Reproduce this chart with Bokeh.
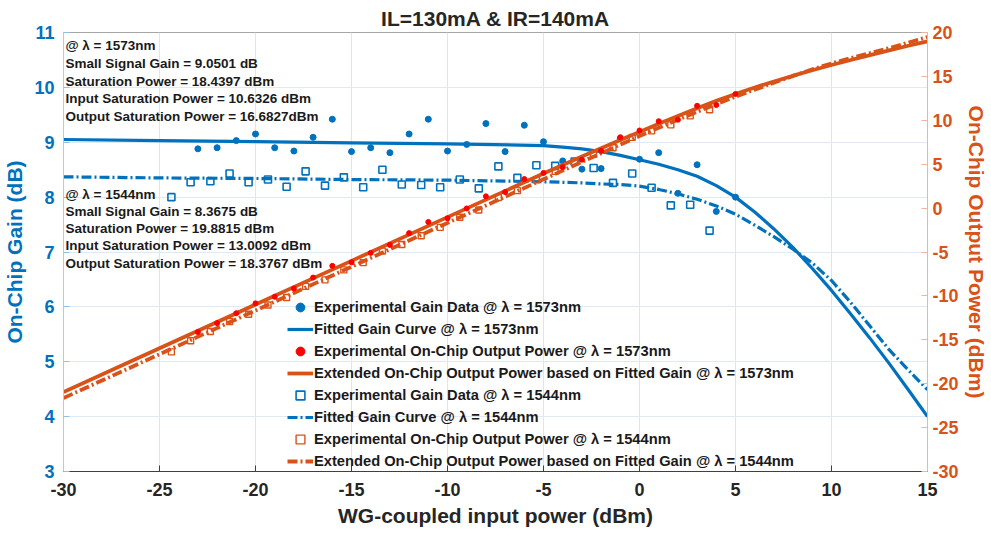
from bokeh.plotting import figure
from bokeh.models import Range1d, LinearAxis, FixedTicker, Legend, LegendItem, Label, ColumnDataSource
from bokeh.embed import file_html
from bokeh.resources import INLINE

# ---------------- data ----------------
title_text = "IL=130mA & IR=140mA"
x_ticks = [-30, -25, -20, -15, -10, -5, 0, 5, 10, 15]
gain_ticks = [3, 4, 5, 6, 7, 8, 9, 10, 11]
pout_ticks = [-30, -25, -20, -15, -10, -5, 0, 5, 10, 15, 20]

# fitted curves
fit_pin = [-30, -25, -20, -15, -10, -5, -4, -3, -2, -1, 0, 1, 2, 3, 4, 5, 6, 7, 8, 9, 10, 11, 12, 13, 14, 15]
fit_gain_1573 = [9.05, 9.03, 9.01, 8.99, 8.97, 8.94, 8.91, 8.88, 8.83, 8.76, 8.68, 8.60, 8.50, 8.38, 8.21, 8.00,
                 7.73, 7.42, 7.08, 6.70, 6.30, 5.87, 5.43, 4.97, 4.49, 4.00]
fit_gain_1544 = [8.37, 8.35, 8.34, 8.32, 8.31, 8.28, 8.27, 8.26, 8.24, 8.23, 8.20, 8.14, 8.06, 7.96, 7.84, 7.69,
                 7.49, 7.28, 7.05, 6.80, 6.48, 6.08, 5.65, 5.22, 4.85, 4.49]
fit_pout_1573 = [-20.95, -15.97, -10.99, -6.01, -1.03, 3.94, 4.91, 5.88, 6.83, 7.76, 8.68, 9.60, 10.50, 11.38, 12.21, 13.00,
                 13.73, 14.42, 15.08, 15.70, 16.30, 16.87, 17.43, 17.97, 18.49, 19.00]
fit_pout_1544 = [-21.63, -16.65, -11.66, -6.68, -1.69, 3.28, 4.27, 5.26, 6.24, 7.23, 8.20, 9.14, 10.06, 10.96, 11.84, 12.69,
                 13.49, 14.28, 15.05, 15.80, 16.48, 17.08, 17.65, 18.22, 18.85, 19.49]

# experimental data @ 1573 nm
exp_pin_1573 = [-23, -22, -21, -20, -19, -18, -17, -16, -15, -14, -13, -12, -11, -10, -9, -8, -7, -6, -5, -4,
                -3, -2, -1, 0, 1, 2, 3, 4, 5]
exp_gain_1573 = [8.88, 8.90, 9.03, 9.15, 8.90, 8.84, 9.09, 9.42, 8.83, 8.90, 8.81, 9.15, 9.42, 8.84, 8.96, 9.34,
                 8.83, 9.31, 9.01, 8.66, 8.51, 8.52, 9.07, 8.69, 8.81, 8.07, 8.59, 7.74, 8.00]
exp_pout_1573 = [-14.12, -13.10, -11.97, -10.85, -10.10, -9.16, -7.91, -6.58, -6.17, -5.10, -4.19, -2.85, -1.58,
                 -1.16, -0.04, 1.34, 1.83, 3.31, 4.01, 4.66, 5.51, 6.52, 8.07, 8.84, 9.90, 10.07, 11.65, 11.74, 13.00]

# experimental data @ 1544 nm
exp_pin_1544 = [-24.38, -23.38, -22.35, -21.35, -20.36, -19.35, -18.38, -17.39, -16.38, -15.40, -14.39, -13.39,
                -12.38, -11.37, -10.38, -9.36, -8.37, -7.35, -6.36, -5.37, -4.39, -3.38, -2.39, -1.38, -0.38,
                0.63, 1.63, 2.64, 3.65]
exp_gain_1544 = [8.00, 8.27, 8.29, 8.43, 8.27, 8.32, 8.19, 8.47, 8.21, 8.36, 8.18, 8.50, 8.23, 8.22, 8.18, 8.32,
                 8.16, 8.56, 8.35, 8.58, 8.57, 8.65, 8.53, 8.26, 8.43, 8.17, 7.85, 7.86, 7.39]
exp_pout_1544 = [-16.38, -15.11, -14.06, -12.92, -12.09, -11.03, -10.19, -8.92, -8.17, -7.04, -6.21, -4.89, -4.15,
                 -3.15, -2.20, -1.04, -0.21, 1.21, 1.99, 3.21, 4.18, 5.27, 6.14, 6.88, 8.05, 8.80, 9.48, 10.50, 11.20]

notes_1573 = ["@ λ = 1573nm", "Small Signal Gain = 9.0501 dB", "Saturation Power = 18.4397 dBm",
              "Input Saturation Power = 10.6326 dBm", "Output Saturation Power = 16.6827dBm"]
notes_1573_y = [10.76, 10.44, 10.11, 9.79, 9.47]
notes_1544 = ["@ λ = 1544nm", "Small Signal Gain = 8.3675 dB", "Saturation Power = 19.8815 dBm",
              "Input Saturation Power = 13.0092 dBm", "Output Saturation Power = 18.3767 dBm"]
notes_1544_y = [8.05, 7.73, 7.42, 7.11, 6.79]

legend_labels = [
    "Experimental Gain Data @ λ = 1573nm",
    "Fitted Gain Curve @ λ = 1573nm",
    "Experimental On-Chip Output Power @ λ = 1573nm",
    "Extended On-Chip Output Power based on Fitted Gain @ λ = 1573nm",
    "Experimental Gain Data @ λ = 1544nm",
    "Fitted Gain Curve @ λ = 1544nm",
    "Experimental On-Chip Output Power @ λ = 1544nm",
    "Extended On-Chip Output Power based on Fitted Gain @ λ = 1544nm",
]

# ---------------- style ----------------
BLUE = "#0072BD"
ORANGE = "#D95319"
RED = "#FF0000"
FONT = "Liberation Sans"
TXT = "#262626"
DASH = "10 3 2 3"

p = figure(width=991, height=533, x_range=Range1d(-30, 15), y_range=Range1d(3, 11),
           output_backend="svg", toolbar_location=None,
           min_border_left=62, min_border_right=64, min_border_top=32, min_border_bottom=62)
p.extra_y_ranges = {"pout": Range1d(-30, 20)}

p.title.text = title_text
p.title.align = "center"
p.title.text_font = FONT
p.title.text_font_size = "21px"
p.title.text_font_style = "bold"
p.title.text_color = TXT
p.title.standoff = 5
p.title.offset = 0

p.background_fill_color = "white"
p.outline_line_color = "#a6a6a6"
p.outline_line_width = 1


def plain_labels(ticks):
    return {t: str(t) for t in ticks}


# x axis
xa = p.xaxis[0]
xa.ticker = FixedTicker(ticks=x_ticks)
xa.major_label_overrides = plain_labels(x_ticks)
xa.axis_label = "WG-coupled input power (dBm)"
xa.axis_label_text_font = FONT
xa.axis_label_text_font_size = "21px"
xa.axis_label_text_font_style = "bold"
xa.axis_label_text_color = TXT
xa.axis_label_standoff = 5
xa.major_label_text_font = FONT
xa.major_label_text_font_size = "18px"
xa.major_label_text_font_style = "bold"
xa.major_label_text_color = TXT
xa.major_label_standoff = 11
xa.axis_line_color = "#404040"
xa.major_tick_line_color = "#404040"
xa.major_tick_in = 6
xa.major_tick_out = 0
xa.minor_tick_line_color = None

# left axis
ya = p.yaxis[0]
ya.ticker = FixedTicker(ticks=gain_ticks)
ya.major_label_overrides = plain_labels(gain_ticks)
ya.axis_label = "On-Chip Gain (dB)"
ya.axis_label_text_font = FONT
ya.axis_label_text_font_size = "21px"
ya.axis_label_text_font_style = "bold"
ya.axis_label_text_color = BLUE
ya.axis_label_standoff = 5
ya.major_label_text_font = FONT
ya.major_label_text_font_size = "18px"
ya.major_label_text_font_style = "bold"
ya.major_label_text_color = BLUE
ya.major_label_standoff = 9
ya.axis_line_color = "#a9cdea"
ya.major_tick_line_color = "#8fc0e6"
ya.major_tick_in = 6
ya.major_tick_out = 0
ya.minor_tick_line_color = None

# right axis
ra = LinearAxis(y_range_name="pout", ticker=FixedTicker(ticks=pout_ticks))
ra.major_label_overrides = plain_labels(pout_ticks)
ra.axis_label = "On-Chip Output Power (dBm)"
ra.axis_label_text_font = FONT
ra.axis_label_text_font_size = "21px"
ra.axis_label_text_font_style = "bold"
ra.axis_label_text_color = ORANGE
ra.axis_label_standoff = 3
ra.major_label_text_font = FONT
ra.major_label_text_font_size = "18px"
ra.major_label_text_font_style = "bold"
ra.major_label_text_color = ORANGE
ra.major_label_standoff = 5
ra.axis_line_color = "#f0b49c"
ra.major_tick_line_color = "#f0b49c"
ra.major_tick_in = 6
ra.major_tick_out = 0
ra.minor_tick_line_color = None
p.add_layout(ra, "right")

# grids
p.xgrid.ticker = FixedTicker(ticks=x_ticks)
p.xgrid.grid_line_color = "#e4e4e4"
p.ygrid.ticker = FixedTicker(ticks=gain_ticks)
p.ygrid.grid_line_color = "#dfeaf5"

# ---------------- glyphs ----------------
fit_src = ColumnDataSource(dict(x=fit_pin, g73=fit_gain_1573, g44=fit_gain_1544,
                                p73=fit_pout_1573, p44=fit_pout_1544))
e73 = ColumnDataSource(dict(x=exp_pin_1573, g=exp_gain_1573, p=exp_pout_1573))
e44 = ColumnDataSource(dict(x=exp_pin_1544, g=exp_gain_1544, p=exp_pout_1544))

r_fit73 = p.line("x", "g73", source=fit_src, line_color=BLUE, line_width=3.2)
r_fit44 = p.line("x", "g44", source=fit_src, line_color=BLUE, line_width=3.2, line_dash=DASH)
r_g73 = p.scatter("x", "g", source=e73, marker="circle", size=6, fill_color=BLUE, line_color=BLUE)
r_g44 = p.scatter("x", "g", source=e44, marker="square", size=7, fill_color=None, line_color=BLUE,
                  line_width=1.6)
r_pf73 = p.line("x", "p73", source=fit_src, y_range_name="pout", line_color=ORANGE, line_width=3.8)
r_pf44 = p.line("x", "p44", source=fit_src, y_range_name="pout", line_color=ORANGE, line_width=3.8,
                line_dash=DASH)
r_p73 = p.scatter("x", "p", source=e73, y_range_name="pout", marker="circle", size=5,
                  fill_color=RED, line_color=RED)
r_p44 = p.scatter("x", "p", source=e44, y_range_name="pout", marker="square", size=6, fill_color=None,
                  line_color=ORANGE, line_width=1.4)

legend = Legend(items=[
    LegendItem(label=legend_labels[0], renderers=[r_g73]),
    LegendItem(label=legend_labels[1], renderers=[r_fit73]),
    LegendItem(label=legend_labels[2], renderers=[r_p73]),
    LegendItem(label=legend_labels[3], renderers=[r_pf73]),
    LegendItem(label=legend_labels[4], renderers=[r_g44]),
    LegendItem(label=legend_labels[5], renderers=[r_fit44]),
    LegendItem(label=legend_labels[6], renderers=[r_p44]),
    LegendItem(label=legend_labels[7], renderers=[r_pf44]),
])
legend.location = (224, -1)
legend.background_fill_alpha = 0
legend.border_line_color = None
legend.padding = 0
legend.margin = 0
legend.spacing = 0
legend.label_height = 22
legend.glyph_height = 22
legend.glyph_width = 26
legend.label_standoff = 1
legend.label_text_font = FONT
legend.label_text_font_size = "14.7px"
legend.label_text_font_style = "bold"
legend.label_text_color = "#1a1a1a"
p.add_layout(legend, "center")

for txt, yy in zip(notes_1573, notes_1573_y):
    p.add_layout(Label(x=-29.9, y=yy, text=txt, text_font=FONT, text_font_size="13.5px",
                       text_font_style="bold", text_color="#1a1a1a", text_baseline="middle"))
for txt, yy in zip(notes_1544, notes_1544_y):
    p.add_layout(Label(x=-29.9, y=yy, text=txt, text_font=FONT, text_font_size="13.5px",
                       text_font_style="bold", text_color="#1a1a1a", text_baseline="middle"))

open("out.html", "w").write(file_html(p, INLINE))
